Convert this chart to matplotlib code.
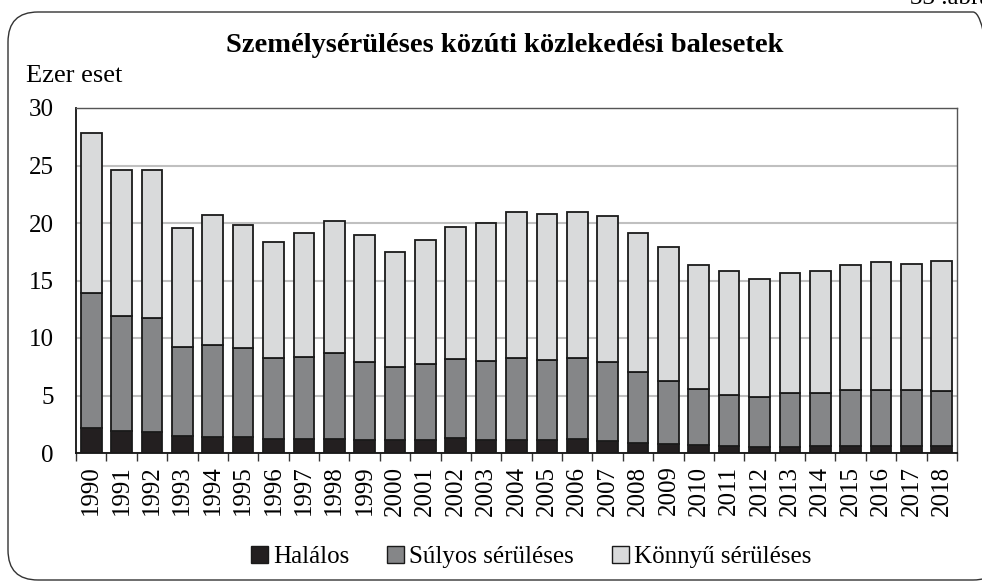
import numpy as np
import matplotlib
matplotlib.use("Agg")
import matplotlib.pyplot as plt
from matplotlib.patches import FancyBboxPatch, Patch

plt.rcParams['font.family'] = ['Liberation Serif', 'DejaVu Serif']

years = [str(y) for y in range(1990, 2019)]

# ezer eset
halalos = [2.17, 1.88, 1.86, 1.45, 1.39, 1.42, 1.25, 1.25, 1.25, 1.16,
           1.10, 1.16, 1.28, 1.16, 1.16, 1.16, 1.19, 1.07, 0.90, 0.75,
           0.67, 0.58, 0.55, 0.55, 0.58, 0.58, 0.58, 0.58, 0.58]
sulyos = [11.73, 10.06, 9.85, 7.77, 8.03, 7.71, 7.04, 7.07, 7.47, 6.75,
          6.35, 6.61, 6.92, 6.87, 7.10, 6.96, 7.07, 6.87, 6.11, 5.54,
          4.87, 4.49, 4.32, 4.64, 4.67, 4.90, 4.87, 4.87, 4.78]
konnyu = [13.90, 12.66, 12.93, 10.32, 11.30, 10.67, 10.09, 10.78, 11.42, 11.02,
          10.05, 10.72, 11.48, 11.94, 12.69, 12.63, 12.70, 12.70, 12.15, 11.59,
          10.78, 10.76, 10.29, 10.49, 10.58, 10.84, 11.13, 11.01, 11.36]

series_names = ['Halálos', 'Súlyos sérüléses', 'Könnyű sérüléses']
colors = ['#231f20', '#858688', '#d9dadb']

W, H = 982, 583
fig = plt.figure(figsize=(W / 100, H / 100), dpi=100)

# lekerekitett keret (jobb oldala kilog a kepbol)
frame = FancyBboxPatch((0.08, 0.03), 9.95, 5.68,
                       boxstyle="round,pad=0,rounding_size=0.3",
                       transform=fig.dpi_scale_trans, fill=False,
                       edgecolor='#333333', linewidth=1.0)
fig.patches.append(frame)

ax = fig.add_axes([76 / W, 1 - 453 / H, (957 - 76) / W, (453 - 108) / H])

x = np.arange(len(years))
bw = 0.68
bottom = np.zeros(len(years))
for vals, col in zip([halalos, sulyos, konnyu], colors):
    ax.bar(x, vals, bw, bottom=bottom, color=col, edgecolor='#1a1a1a',
           linewidth=1.3, zorder=3)
    bottom += np.array(vals)

ax.set_xlim(-0.5, len(years) - 0.5)
ax.set_ylim(0, 30)
ax.set_yticks(range(0, 31, 5))
ax.yaxis.grid(True, color='#c0c0c0', linewidth=1.5, zorder=0)
ax.tick_params(axis='y', length=0, pad=16, labelsize=18)

ax.set_xticks(x)
ax.set_xticklabels(years, rotation=90, fontsize=18)
ax.set_xticks(np.arange(-0.5, len(years), 1), minor=True)
ax.tick_params(axis='x', which='major', length=0, pad=9)
ax.tick_params(axis='x', which='minor', length=6, width=1.0, color='#333333')

ax.spines['left'].set_color('#111111')
ax.spines['left'].set_linewidth(1.3)
ax.spines['bottom'].set_color('#111111')
ax.spines['bottom'].set_linewidth(1.3)
for s in ['top', 'right']:
    ax.spines[s].set_color('#555555')
    ax.spines[s].set_linewidth(1.0)

fig.text(505 / W, 1 - 52 / H, 'Személysérüléses közúti közlekedési balesetek',
         ha='center', va='baseline', fontsize=20.5, fontweight='bold')
fig.text(26 / W, 1 - 82 / H, 'Ezer eset', ha='left', va='baseline', fontsize=19)
fig.text(910 / W, 1 - 4 / H, '33 .ábra', ha='left', va='baseline', fontsize=18)

handles = [Patch(facecolor=c, edgecolor='#1a1a1a', linewidth=1.0) for c in colors]
fig.legend(handles, series_names, loc='center', bbox_to_anchor=(531 / W, 1 - 557 / H),
           ncol=3, frameon=False, fontsize=18, handlelength=0.7, handleheight=0.7,
           handletextpad=0.2, columnspacing=1.5)

fig.savefig('out.png', dpi=100)
